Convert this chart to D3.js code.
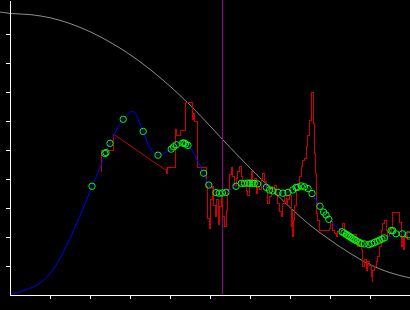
<!DOCTYPE html>
<html>
<head>
<meta charset="utf-8" />
<title>fit</title>
<script src="https://d3js.org/d3.v7.min.js"></script>
<style>
	body { margin: 0; background: #000; }
	svg { display: block; background: #000; }
	.axis path, .axis line { fill: none; stroke: #fff; shape-rendering: crispEdges; }
</style>
</head>
<body>
<script>
// ---- data (arbitrary units, 0..100 on both axes) ----
var xTicks = [10, 20, 30, 40, 50, 60, 70, 80, 90];
var yTicks = [10, 20, 30, 40, 50, 60, 70, 80, 90];

// grey reference curve
var greyX = [-2.6, 0, 5, 10, 15, 20, 25, 30, 35, 40, 45, 50, 55, 60, 65, 70, 75, 80, 85, 90, 95, 100];
var greyY = [97.6, 97.1, 96.7, 95.6, 93.6, 90.8, 87.2, 82.9, 77.8, 72.0, 65.5, 58.3, 50.9, 43.8, 37.0, 30.2, 24.1, 19.0, 14.4, 10.5, 7.7, 5.9];

// blue fitted curve
var blueX = [0, 2.4, 7.4, 10.7, 14.0, 17.4, 20.5, 22.4, 23.9, 25.0, 28.3, 30.7, 33.3, 35.3, 37.0, 40.4, 41.4, 43.3, 44.5, 46.4, 48.4, 49.7, 51.5, 52.6, 54.0, 56.5, 58.6, 61.1, 62.4, 64.4, 66.9, 68.4, 69.9, 71.4, 72.8, 74.1, 75.5, 77.4, 78.9, 79.9, 81.4, 83.0, 84.9, 86.6, 88.1, 89.6, 91.1, 92.4, 93.6, 95.4, 96.5, 98.1, 99.9];
var blueY = [0.5, 1.1, 4.0, 8.6, 16.7, 27.0, 37.4, 43.5, 49.1, 52.3, 60.6, 63.3, 56.4, 50.0, 48.2, 50.5, 51.6, 52.4, 51.6, 47.6, 42.0, 37.9, 35.3, 35.1, 35.4, 37.4, 38.5, 38.5, 38.2, 36.9, 35.4, 35.1, 35.7, 36.9, 37.6, 37.2, 35.0, 30.5, 27.6, 26.0, 23.8, 21.8, 20.3, 18.8, 17.8, 17.2, 18.1, 18.9, 19.7, 20.3, 21.2, 21.2, 20.7];

// green sample points
var dotX = [20.5, 23.7, 24.0, 25.0, 28.3, 33.3, 37.0, 40.3, 40.9, 41.6, 43.2, 43.5, 43.9, 44.5, 48.4, 49.7, 51.5, 52.3, 53.1, 54.0, 56.5, 57.8, 58.6, 59.4, 59.9, 60.6, 61.1, 61.9, 64.1, 64.9, 65.7, 67.0, 68.2, 69.5, 70.7, 71.5, 71.9, 72.8, 73.6, 74.5, 75.5, 77.5, 78.4, 79.0, 79.7, 83.0, 83.5, 84.1, 84.5, 84.9, 85.3, 85.7, 86.2, 86.6, 87.2, 87.8, 88.6, 89.7, 90.4, 91.1, 91.8, 92.4, 93.0, 93.6, 95.3, 95.7, 96.5, 98.1, 99.5];
var dotY = [37.5, 48.8, 49.1, 52.3, 60.6, 56.4, 48.2, 50.3, 51.1, 51.8, 52.4, 52.4, 52.1, 51.6, 42.0, 37.9, 35.3, 35.1, 35.2, 35.4, 37.5, 38.5, 38.5, 38.6, 38.5, 38.5, 38.5, 38.3, 37.1, 36.2, 35.9, 35.4, 35.1, 35.4, 36.2, 37.1, 37.1, 37.6, 37.3, 36.7, 35.0, 30.6, 28.6, 27.6, 26.1, 21.8, 21.4, 20.9, 20.5, 20.2, 19.8, 19.4, 19.0, 18.7, 18.2, 17.8, 17.6, 17.4, 17.7, 18.1, 18.5, 18.9, 19.3, 19.7, 22.2, 22.2, 21.1, 21.1, 20.7];

// red measured signal (steps), first short run then the main run
var redAX = [22.75, 22.8, 25.8, 26.05];
var redAY = [42.5, 49.8, 55.3, 55.3];
var redBX = [38.63, 39.2, 39.45, 41.38, 41.7, 42.63, 43.88, 45.7, 45.95, 46.2, 46.95, 49.05, 49.45, 49.88, 50.2, 50.55, 50.88, 51.25, 51.63, 52.0, 52.38, 52.75, 53.2, 53.63, 54.05, 54.45, 54.88, 55.3, 55.7, 56.13, 56.55, 56.95, 57.38, 57.8, 58.2, 58.63, 59.05, 59.45, 59.88, 60.3, 60.7, 61.13, 61.55, 61.95, 62.38, 62.8, 63.2, 63.63, 64.05, 64.45, 64.88, 65.3, 65.7, 66.13, 66.55, 66.95, 67.38, 67.8, 68.2, 68.63, 69.05, 69.45, 69.88, 70.3, 70.5, 70.7, 70.93, 71.13, 71.55, 71.95, 72.38, 72.8, 73.2, 73.63, 74.05, 74.45, 74.88, 75.3, 75.95, 76.13, 76.38, 76.55, 76.7, 76.95, 77.38, 79.88, 80.13, 80.7, 81.13, 81.55, 81.95, 82.38, 83.2, 83.63, 84.05, 84.88, 85.7, 86.55, 86.95, 87.38, 87.8, 88.2, 88.63, 89.05, 89.45, 89.88, 90.3, 90.55, 90.7, 91.13, 91.55, 91.95, 92.38, 92.8, 93.2, 93.63, 94.05, 94.45, 94.88, 95.3, 95.5, 97.38, 97.8, 98.05, 98.38, 98.63, 99.05, 99.45, 99.88];
var redBY = [43.34, 41.97, 44.03, 57.14, 55.17, 56.66, 66.31, 60.59, 62.66, 59.76, 44.0, 37.34, 26.45, 23.1, 32.76, 37.34, 31.03, 27.0, 32.76, 24.14, 30.45, 33.9, 27.0, 23.55, 29.31, 36.21, 41.38, 44.03, 40.79, 37.93, 40.34, 42.52, 44.24, 40.79, 37.34, 39.07, 35.62, 34.48, 39.66, 42.52, 38.52, 40.24, 35.07, 37.34, 36.21, 39.66, 41.97, 39.07, 35.62, 31.62, 33.9, 37.34, 35.62, 37.93, 35.07, 31.62, 28.72, 27.0, 31.62, 34.48, 31.62, 32.76, 34.48, 23.55, 29.31, 20.1, 25.86, 31.03, 36.21, 38.52, 40.79, 44.24, 46.55, 47.14, 51.14, 55.17, 60.34, 69.76, 59.21, 48.86, 41.97, 35.07, 28.17, 25.86, 22.41, 23.0, 25.28, 22.41, 21.28, 20.1, 21.83, 23.0, 24.72, 22.41, 20.69, 20.1, 20.69, 18.97, 16.66, 17.83, 15.52, 9.76, 12.07, 8.62, 11.48, 10.34, 6.31, 4.59, 8.62, 9.76, 11.48, 13.21, 16.66, 22.41, 24.72, 25.86, 22.41, 20.1, 21.28, 23.1, 28.52, 25.17, 16.66, 20.1, 15.52, 20.1, 21.28, 18.97, 18.97];

// vertical marker
var markerX = 53.1;

// ---- drawing ----
var width = 410, height = 310;

var svg = d3.select("body").append("svg")
    .attr("width", width)
    .attr("height", height);

var x = d3.scaleLinear().domain([0, 100]).range([10, 410]);
var y = d3.scaleLinear().domain([0, 295 / 2.9]).range([295, 0]);

function pts(xs, ys) {
  return xs.map(function(d, i) { return [d, ys[i]]; });
}

// grey curve
svg.append("path")
  .datum(pts(greyX, greyY))
  .attr("fill", "none")
  .attr("stroke", "#8c8c8c")
  .attr("stroke-width", 1)
  .attr("d", d3.line()
      .x(function(d) { return x(d[0]); })
      .y(function(d) { return y(d[1]); })
      .curve(d3.curveMonotoneX));

// purple marker
svg.append("line")
  .attr("x1", x(markerX)).attr("x2", x(markerX))
  .attr("y1", y(0)).attr("y2", y.range()[1])
  .attr("stroke", "#990099")
  .attr("stroke-width", 1)
  .style("shape-rendering", "crispEdges");

// red signal
var stepLine = d3.line()
    .x(function(d) { return x(d[0]); })
    .y(function(d) { return y(d[1]); })
    .curve(d3.curveStepAfter);
var redA = pts(redAX, redAY), redB = pts(redBX, redBY);
[redA, redB].forEach(function(seg) {
  svg.append("path")
    .datum(seg)
    .attr("fill", "none")
    .attr("stroke", "#cc0000")
    .attr("stroke-width", 1)
    .style("shape-rendering", "crispEdges")
    .attr("d", stepLine);
});
// gap between the two runs
svg.append("path")
  .datum([redA[redA.length - 1], redB[0]])
  .attr("fill", "none")
  .attr("stroke", "#cc0000")
  .attr("stroke-width", 1)
  .attr("d", d3.line().x(function(d) { return x(d[0]); }).y(function(d) { return y(d[1]); }));

// blue curve
svg.append("path")
  .datum(pts(blueX, blueY))
  .attr("fill", "none")
  .attr("stroke", "#0000ff")
  .attr("stroke-width", 1)
  .attr("d", d3.line()
      .x(function(d) { return x(d[0]); })
      .y(function(d) { return y(d[1]); })
      .curve(d3.curveCatmullRom.alpha(0.5)));

// green points
svg.selectAll("circle.pt")
  .data(pts(dotX, dotY))
  .enter()
  .append("circle")
    .attr("class", "pt")
    .attr("cx", function(d) { return x(d[0]); })
    .attr("cy", function(d) { return y(d[1]); })
    .attr("r", 3.2)
    .attr("fill", "none")
    .attr("stroke", "#00ff00")
    .attr("stroke-width", 1);

// axes (no labels)
svg.append("g")
  .attr("class", "axis")
  .attr("transform", "translate(0," + y(0) + ")")
  .call(d3.axisBottom(x).tickValues(xTicks).tickSize(4).tickSizeOuter(0).tickFormat(""));

svg.append("g")
  .attr("class", "axis")
  .attr("transform", "translate(" + x(0) + ",0)")
  .call(d3.axisLeft(y).tickValues(yTicks).tickSize(4).tickSizeOuter(0).tickFormat(""));
</script>
</body>
</html>
